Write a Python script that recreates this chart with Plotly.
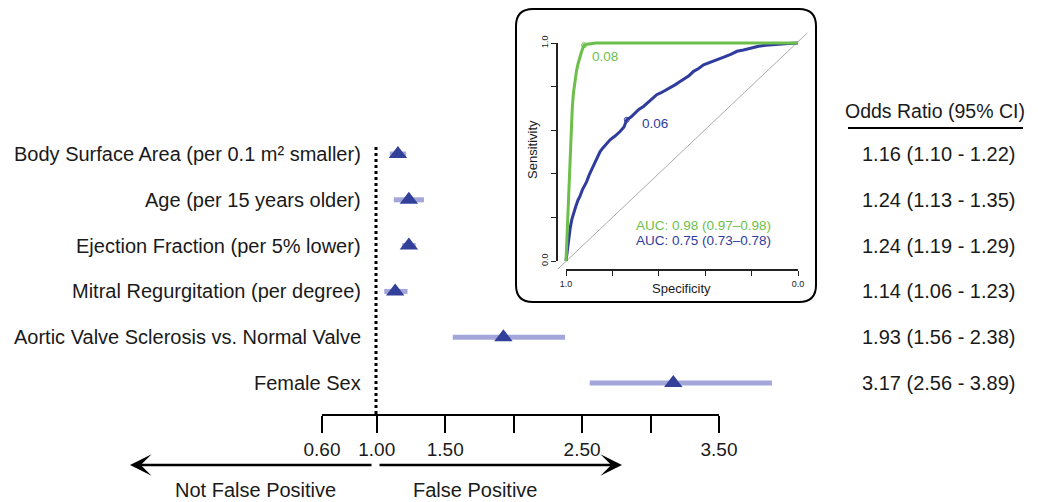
import plotly.graph_objects as go

# The page body has an 8px margin, so the figure is made 8px smaller and all
# layout positions (measured on the 1038x502 reference) are shifted by 8px.
VW, VH = 1038, 502
OFF = 8
W, H = VW - OFF, VH - OFF
FONT = "Liberation Sans, Arial, Helvetica, sans-serif"

# ---------------- data ----------------
labels = ["Body Surface Area (per 0.1 m² smaller)", "Age (per 15 years older)",
          "Ejection Fraction (per 5% lower)", "Mitral Regurgitation (per degree)",
          "Aortic Valve Sclerosis vs. Normal Valve", "Female Sex"]
odds = [1.16, 1.24, 1.24, 1.14, 1.93, 3.17]
ci_lo = [1.10, 1.13, 1.19, 1.06, 1.56, 2.56]
ci_hi = [1.22, 1.35, 1.29, 1.23, 2.38, 3.89]
or_text = ["1.16 (1.10 - 1.22)", "1.24 (1.13 - 1.35)", "1.24 (1.19 - 1.29)",
           "1.14 (1.06 - 1.23)", "1.93 (1.56 - 2.38)", "3.17 (2.56 - 3.89)"]
axis_ticks = [0.6, 1.0, 1.5, 2.0, 2.5, 3.0, 3.5]
axis_ticktext = ["0.60", "1.00", "1.50", "", "2.50", "", "3.50"]

green_spec = [1.000, 0.996, 0.991, 0.986, 0.982, 0.978, 0.973, 0.968, 0.962, 0.955, 0.948, 0.940,
              0.933, 0.927, 0.922, 0.910, 0.890, 0.870, 0.800, 0.600, 0.400, 0.200, 0.100, 0.000]
green_sens = [0.000, 0.110, 0.230, 0.360, 0.500, 0.610, 0.700, 0.770, 0.820, 0.870, 0.905, 0.940,
              0.960, 0.978, 0.990, 0.994, 0.997, 1.000, 1.000, 1.000, 1.000, 1.000, 1.000, 1.000]
blue_spec = [1.000, 0.995, 0.990, 0.982, 0.975, 0.968, 0.958, 0.948, 0.940, 0.930, 0.920, 0.911,
             0.900, 0.890, 0.882, 0.870, 0.860, 0.853, 0.840, 0.825, 0.810, 0.790, 0.767, 0.750,
             0.738, 0.720, 0.700, 0.685, 0.666, 0.645, 0.625, 0.609, 0.590, 0.570, 0.551, 0.530,
             0.510, 0.494, 0.470, 0.450, 0.430, 0.407, 0.380, 0.350, 0.320, 0.290, 0.263, 0.235,
             0.206, 0.170, 0.140, 0.119, 0.080, 0.040, 0.000]
blue_sens = [0.000, 0.050, 0.096, 0.150, 0.190, 0.219, 0.250, 0.280, 0.296, 0.325, 0.345, 0.364,
             0.395, 0.418, 0.433, 0.465, 0.490, 0.502, 0.520, 0.538, 0.556, 0.572, 0.594, 0.615,
             0.648, 0.660, 0.680, 0.696, 0.709, 0.728, 0.748, 0.763, 0.772, 0.783, 0.793, 0.808,
             0.822, 0.832, 0.850, 0.870, 0.882, 0.900, 0.910, 0.923, 0.935, 0.948, 0.962, 0.968,
             0.977, 0.985, 0.990, 0.992, 0.996, 0.998, 1.000]
green_thr = (0.922, 0.990, "0.08")
blue_thr = (0.738, 0.648, "0.06")
auc_green = "AUC: 0.98 (0.97–0.98)"
auc_blue = "AUC: 0.75 (0.73–0.78)"

# ---------------- styles ----------------
GREEN = "#6cbf4a"
BLUE = "#2f3c9e"
BAR = "#a3a6d9"
TRI = "#33409a"
TXT = "#1a1a1a"


def px(x):
    return (x - OFF) / W


def py(y):
    return 1 - (y - OFF) / H


rows = list(range(len(labels)))
ROW0, ROWSTEP = 154 - OFF, 45.8
X1PX, XSCALE = 376 - OFF, 137.0

fig = go.Figure()

# CI bars
bx, by = [], []
for r, lo, hi in zip(rows, ci_lo, ci_hi):
    bx += [lo, hi, None]
    by += [r, r, None]
fig.add_trace(go.Scatter(x=bx, y=by, mode="lines", line=dict(color=BAR, width=5),
                         hoverinfo="skip", showlegend=False))
fig.add_trace(go.Scatter(x=odds, y=rows, mode="markers",
                         marker=dict(symbol="triangle-up", size=16, color=TRI),
                         hoverinfo="skip", showlegend=False))

# dummy traces for display axes
fig.add_trace(go.Scatter(x=[None], y=[None], xaxis="x3", yaxis="y", showlegend=False))
fig.add_trace(go.Scatter(x=[None], y=[None], xaxis="x4", yaxis="y4", showlegend=False))

# ROC
fig.add_trace(go.Scatter(x=[1.035, -0.04], y=[-0.037, 1.046], mode="lines",
                         line=dict(color="#aaaaaa", width=1), xaxis="x2", yaxis="y2",
                         hoverinfo="skip", showlegend=False))
fig.add_trace(go.Scatter(x=blue_spec, y=blue_sens, mode="lines", line=dict(color=BLUE, width=3),
                         xaxis="x2", yaxis="y2", hoverinfo="skip", showlegend=False))
fig.add_trace(go.Scatter(x=green_spec, y=green_sens, mode="lines", line=dict(color=GREEN, width=3),
                         xaxis="x2", yaxis="y2", hoverinfo="skip", showlegend=False))
fig.add_trace(go.Scatter(x=[green_thr[0]], y=[green_thr[1]], mode="markers",
                         marker=dict(symbol="circle-open", size=5, color=GREEN, line=dict(width=1)),
                         xaxis="x2", yaxis="y2", hoverinfo="skip", showlegend=False))
fig.add_trace(go.Scatter(x=[blue_thr[0]], y=[blue_thr[1]], mode="markers",
                         marker=dict(symbol="circle-open", size=5, color=BLUE, line=dict(width=1)),
                         xaxis="x2", yaxis="y2", hoverinfo="skip", showlegend=False))

ann = []
for r, lab, t in zip(rows, labels, or_text):
    ann.append(dict(x=px(363), xref="paper", y=r, yref="y", text=lab, showarrow=False,
                    xanchor="right", yanchor="middle", font=dict(size=20, color=TXT, family=FONT)))
    ann.append(dict(x=px(938), xref="paper", y=r, yref="y", text=t, showarrow=False,
                    xanchor="center", yanchor="middle", font=dict(size=20, color=TXT, family=FONT)))
ann.append(dict(x=px(935), y=py(111), xref="paper", yref="paper", text="Odds Ratio (95% CI)",
                showarrow=False, xanchor="center", yanchor="middle",
                font=dict(size=19.5, color=TXT, family=FONT)))
ann.append(dict(x=px(255), y=py(490), xref="paper", yref="paper", text="Not False Positive",
                showarrow=False, xanchor="center", yanchor="middle",
                font=dict(size=20, color=TXT, family=FONT)))
ann.append(dict(x=px(475), y=py(490), xref="paper", yref="paper", text="False Positive",
                showarrow=False, xanchor="center", yanchor="middle",
                font=dict(size=20, color=TXT, family=FONT)))
# arrows
ann.append(dict(x=px(130), y=py(465), xref="paper", yref="paper", ax=243, ay=0, text="",
                showarrow=True, arrowhead=3, arrowsize=1.5, arrowwidth=2.4, arrowcolor="black"))
ann.append(dict(x=px(622), y=py(465), xref="paper", yref="paper", ax=-244, ay=0, text="",
                showarrow=True, arrowhead=3, arrowsize=1.5, arrowwidth=2.4, arrowcolor="black"))
# ROC texts
ann.append(dict(x=0.897, y=0.936, xref="x2", yref="y2", text=green_thr[2], showarrow=False,
                xanchor="left", yanchor="middle", font=dict(size=13.5, color=GREEN, family=FONT)))
ann.append(dict(x=0.681, y=0.633, xref="x2", yref="y2", text=blue_thr[2], showarrow=False,
                xanchor="left", yanchor="middle", font=dict(size=13.5, color=BLUE, family=FONT)))
ann.append(dict(x=0.108, y=0.161, xref="x2", yref="y2", text=auc_green, showarrow=False,
                xanchor="right", yanchor="middle", font=dict(size=13.5, color=GREEN, family=FONT)))
ann.append(dict(x=0.108, y=0.092, xref="x2", yref="y2", text=auc_blue, showarrow=False,
                xanchor="right", yanchor="middle", font=dict(size=13.5, color=BLUE, family=FONT)))
# ROC axis titles
ann.append(dict(x=px(681), y=py(288), xref="paper", yref="paper", text="Specificity",
                showarrow=False, xanchor="center", yanchor="middle",
                font=dict(size=13, color=TXT, family=FONT)))
ann.append(dict(x=px(533), y=py(150), xref="paper", yref="paper", text="Sensitivity",
                showarrow=False, xanchor="center", yanchor="middle", textangle=-90,
                font=dict(size=13, color=TXT, family=FONT)))

# rounded inset box
x0, x1, yt, yb = px(516), px(816), py(9), py(302)
rx, ry = 17 / W, 17 / H
path = (f"M{x0+rx},{yt} L{x1-rx},{yt} Q{x1},{yt} {x1},{yt-ry} L{x1},{yb+ry} "
        f"Q{x1},{yb} {x1-rx},{yb} L{x0+rx},{yb} Q{x0},{yb} {x0},{yb+ry} "
        f"L{x0},{yt-ry} Q{x0},{yt} {x0+rx},{yt} Z")
shapes = [
    dict(type="path", path=path, xref="paper", yref="paper", line=dict(color="black", width=2)),
    dict(type="line", xref="x", yref="paper", x0=1.0, x1=1.0, y0=py(147), y1=py(415),
         line=dict(color="black", width=3, dash="dot")),
    dict(type="line", xref="paper", yref="paper", x0=px(848), x1=px(1023), y0=py(128), y1=py(128),
         line=dict(color="black", width=2)),
]

fig.update_layout(
    width=W, height=H, margin=dict(l=0, r=0, t=0, b=0, autoexpand=False),
    paper_bgcolor="white", plot_bgcolor="rgba(0,0,0,0)", showlegend=False,
    font=dict(family=FONT, color=TXT),
    annotations=ann, shapes=shapes,
    xaxis=dict(domain=[0, 1], range=[1 - X1PX / XSCALE, 1 + (W - X1PX) / XSCALE], visible=False,
               automargin=False),
    yaxis=dict(domain=[0, 1], range=[(H - ROW0) / ROWSTEP, -ROW0 / ROWSTEP], visible=False,
               automargin=False),
    xaxis3=dict(domain=[px(322), px(719)], range=[0.6, 3.5], anchor="free", position=py(415),
                showline=True, linewidth=2, linecolor="black", ticks="outside", ticklen=17,
                tickwidth=2, tickcolor="black", tickvals=axis_ticks, ticktext=axis_ticktext,
                tickfont=dict(size=19, color=TXT, family=FONT), showgrid=False, zeroline=False,
                automargin=False),
    xaxis2=dict(domain=[px(553), px(810)], range=[1 + 13 / 232, -12 / 232], visible=False,
                anchor="y2", automargin=False),
    yaxis2=dict(domain=[py(272), py(30)], range=[-11 / 218, 1 + 13 / 218], visible=False,
                anchor="x2", automargin=False),
    xaxis4=dict(domain=[px(566), px(798)], range=[1, 0], anchor="free", position=py(270),
                showline=True, linewidth=1.5, linecolor="#222", ticks="outside", ticklen=5,
                tickwidth=1.2, tickcolor="#222", tickvals=[1, 0.8, 0.6, 0.4, 0.2, 0],
                ticktext=["1.0", "", "", "", "", "0.0"], automargin=False,
                tickfont=dict(size=9, color=TXT, family=FONT), showgrid=False, zeroline=False),
    yaxis4=dict(domain=[py(261), py(43)], range=[0, 1], anchor="free", position=px(557),
                showline=True, linewidth=1.5, linecolor="#222", ticks="outside", ticklen=5,
                tickwidth=1.2, tickcolor="#222", tickvals=[0, 0.2, 0.4, 0.6, 0.8, 1],
                ticktext=["0.0", "", "", "", "", "1.0"], tickangle=-90, automargin=False,
                tickfont=dict(size=9, color=TXT, family=FONT), showgrid=False, zeroline=False),
)

fig.write_html("out.html")
